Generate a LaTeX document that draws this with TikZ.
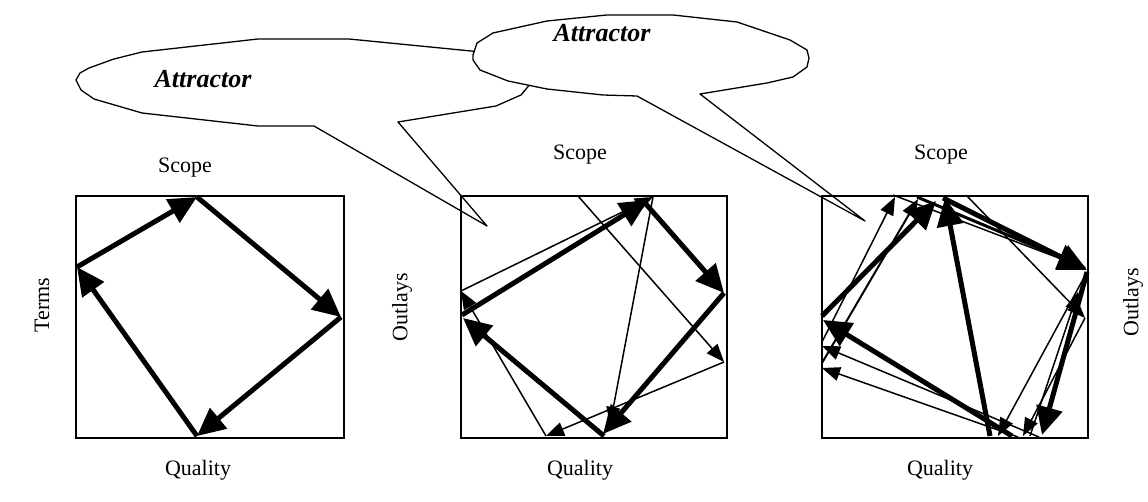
\documentclass[tikz,border=0pt]{standalone}
\usepackage{fontspec}
\setmainfont{Liberation Serif}
\usetikzlibrary{arrows.meta}
\begin{document}
\begin{tikzpicture}[x=1pt,y=-1pt,
  frame/.style={draw, line width=1.6pt, inner sep=0pt, anchor=north west},
  bigarrow/.style={line width=5pt, -{Triangle[length=28pt,width=26pt]}},
  smallarrow/.style={line width=1.5pt, -{Triangle[length=18pt,width=14pt]}},
  lbl/.style={font=\fontsize{22}{26}\selectfont, inner sep=0pt},
  attr/.style={font=\fontsize{26}{30}\selectfont\bfseries\itshape, inner sep=0pt},
  balloon/.style={draw, fill=white, line width=1.3pt, line join=round}]
\useasboundingbox (0,0) rectangle (1148,502);

% ---------- callouts ----------
\draw[balloon] (76,80) -- (81,90) -- (94,99) -- (142,113) -- (258,126) -- (314,126)
  -- (487,226) -- (398,122) -- (496,106) -- (521,95) -- (531,83) -- (534,72)
  -- (522,62) -- (500,56) -- (485,54) -- (481,52) -- (349,39) -- (258,39)
  -- (142,52) -- (114,59) -- (89,68) -- (80,73) -- cycle;
\draw[balloon] (473,55) -- (477,43) -- (493,33) -- (547,21) -- (607,15) -- (673,15)
  -- (737,22) -- (790,40) -- (807,50) -- (809,58) -- (807,67) -- (793,77)
  -- (767,83) -- (700,94) -- (865,221) -- (637,96) -- (603,95) -- (547,89)
  -- (508,81) -- (480,70) -- (473,60) -- cycle;
\node[attr] (att1) at (203,79) {Attractor};
\node[attr] (att2) at (602,33) {Attractor};

% ---------- boxes ----------
\node[frame, minimum width=268pt, minimum height=242pt] (box1) at (75,195) {};
\node[frame, minimum width=266pt, minimum height=242pt] (box2) at (460,195) {};
\node[frame, minimum width=266pt, minimum height=242pt] (box3) at (821,195) {};

% ---------- labels ----------
\node[lbl] (scope1) at (185,168) {Scope};
\node[lbl] (scope2) at (580,155) {Scope};
\node[lbl] (scope3) at (941,155) {Scope};
\node[lbl] (qual1) at (198,470) {Quality};
\node[lbl] (qual2) at (580,470) {Quality};
\node[lbl] (qual3) at (940,470) {Quality};
\node[lbl, rotate=90] (terms) at (42,305) {Terms};
\node[lbl, rotate=90] (outl2) at (402,307) {Outlays};
\node[lbl, rotate=90] (outl3) at (1133,302) {Outlays};

% ---------- box 1 ----------
\coordinate (p1t) at (197,197);
\coordinate (p1r) at (341,317);
\coordinate (p1b) at (197,436);
\coordinate (p1l) at (77,267);
\draw[bigarrow] (p1l) -- (p1t);
\draw[bigarrow] (p1t) -- (p1r);
\draw[bigarrow] (p1r) -- (p1b);
\draw[bigarrow] (p1b) -- (p1l);

% ---------- box 2 ----------
\coordinate (q1) at (462,315);
\coordinate (q2) at (648,200);
\coordinate (q3) at (645,203);
\coordinate (q4) at (724,293);
\coordinate (q5) at (603,434);
\coordinate (q6) at (604,436);
\coordinate (q7) at (463,318);
\draw[bigarrow] (q1) -- (q2);
\draw[bigarrow] (q3) -- (q4);
\draw[bigarrow] (q4) -- (q5);
\draw[bigarrow] (q6) -- (q7);
\coordinate (r1) at (461,291);
\coordinate (r2) at (653,197);
\coordinate (r3) at (610,425);
\coordinate (r4) at (578,196);
\coordinate (r5) at (724,362);
\coordinate (r6) at (546,436);
\draw[smallarrow] (r1) -- (r2);
\draw[smallarrow] (r2) -- (r3);
\draw[smallarrow] (r4) -- (r5);
\draw[smallarrow] (r5) -- (r6);
\draw[smallarrow] (r6) -- (r1);

% ---------- box 3 ----------
\coordinate (s1) at (822,316);
\coordinate (s2) at (936,201);
\coordinate (s3) at (943,198);
\coordinate (s4) at (1087,270);
\coordinate (s5) at (990,436);
\coordinate (s6) at (945,198);
\coordinate (s7) at (1012,436);
\coordinate (s8) at (823,320);
\coordinate (s9) at (1087,272);
\coordinate (s10) at (1042,435);
\coordinate (s11) at (917,197);
\coordinate (s12) at (1086,268);
\draw[bigarrow] (s1) -- (s2);
\draw[bigarrow] (s3) -- (s4);
\draw[bigarrow] (s5) -- (s6);
\draw[bigarrow] (s7) -- (s8);
\draw[bigarrow] (s9) -- (s10);
\draw[bigarrow, line width=3pt] (s11) -- (s12);
\coordinate (u1) at (822,342);
\coordinate (u2) at (895,197);
\coordinate (u3) at (822,363);
\coordinate (u4) at (918,199);
\coordinate (u5) at (893,195);
\coordinate (u6) at (1085,268);
\coordinate (u7) at (967,196);
\coordinate (u8) at (1085,318);
\coordinate (u9) at (998,436);
\coordinate (u10) at (1023,436);
\coordinate (u11) at (1030,436);
\coordinate (u12) at (1078,292);
\coordinate (u13) at (1039,437);
\coordinate (u14) at (822,346);
\coordinate (u15) at (1018,437);
\coordinate (u16) at (822,368);
\draw[smallarrow] (u1) -- (u2);
\draw[smallarrow, line width=2pt] (u3) -- (u4);
\draw[smallarrow] (u5) -- (u6);
\draw[smallarrow] (u7) -- (u8);
\draw[smallarrow] (s9) -- (u9);
\draw[smallarrow] (u8) -- (u10);
\draw[smallarrow] (u11) -- (u12);
\draw[smallarrow] (u13) -- (u14);
\draw[smallarrow] (u15) -- (u16);
\end{tikzpicture}
\end{document}
